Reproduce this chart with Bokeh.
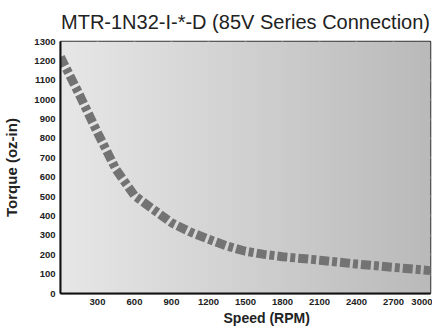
import numpy as np
from bokeh.plotting import figure
from bokeh.models import FixedTicker, Range1d, Title
from bokeh.embed import file_html
from bokeh.resources import INLINE

# ---- data ----
speed_rpm = [0, 150, 300, 450, 600, 750, 900, 1050, 1200, 1350, 1500, 1650, 1800, 2100, 2400, 2700, 3000]
torque_ozin = [1220, 1030, 830, 640, 505, 435, 365, 318, 280, 245, 218, 202, 190, 172, 152, 135, 118]
x_ticks = [300, 600, 900, 1200, 1500, 1800, 2100, 2400, 2700, 3000]
y_ticks = [0, 100, 200, 300, 400, 500, 600, 700, 800, 900, 1000, 1100, 1200, 1300]
title_text = "MTR-1N32-I-*-D (85V Series Connection)"
x_label = "Speed (RPM)"
y_label = "Torque (oz-in)"

FONT = "Liberation Sans"

p = figure(width=432, height=327, output_backend="svg", toolbar_location=None,
           x_range=Range1d(0, 3000), y_range=Range1d(0, 1300),
           min_border_left=51, min_border_right=2, min_border_top=0, min_border_bottom=34,
           background_fill_color="white", border_fill_color="white")
p.title = None

# gradient background (light left -> darker right)
n = 200
row = np.linspace(231, 186, n).astype(np.uint32)
img = np.empty((2, n), dtype=np.uint32)
view = img.view(dtype=np.uint8).reshape((2, n, 4))
for j in range(2):
    view[j, :, 0] = row
    view[j, :, 1] = row
    view[j, :, 2] = row
    view[j, :, 3] = 255
p.image_rgba(image=[img], x=0, y=0, dw=3000, dh=1300)

p.line(speed_rpm, torque_ozin, line_width=9, line_color="#737373",
       line_dash="10 3 5 3", line_cap="butt", line_join="round")

# title
p.add_layout(Title(text=title_text, align="center", text_font=FONT,
                   text_font_style="normal", text_font_size="20px", text_color="#222222",
                   standoff=17), "above")
# x axis title (sits a little right of centre in the reference)
p.add_layout(Title(text=x_label, align="left", offset=163, text_font=FONT,
                   text_font_style="bold", text_font_size="14px", text_color="#222222",
                   standoff=0), "below")

# axes
for ax in (p.xaxis[0], p.yaxis[0]):
    ax.axis_line_color = "#111111"
    ax.axis_line_width = 2
    ax.major_tick_line_color = None
    ax.minor_tick_line_color = None
    ax.major_tick_out = 0
    ax.major_tick_in = 0
    ax.major_label_text_font = FONT
    ax.major_label_text_font_style = "bold"
    ax.major_label_text_font_size = "9.5px"
    ax.major_label_text_color = "#222222"
    ax.major_label_standoff = 5

p.xaxis.ticker = FixedTicker(ticks=x_ticks)
p.yaxis.ticker = FixedTicker(ticks=y_ticks)
p.xaxis.axis_label_standoff = 0
p.yaxis.axis_label = y_label
p.yaxis.axis_label_text_font = FONT
p.yaxis.axis_label_text_font_style = "bold"
p.yaxis.axis_label_text_font_size = "15px"
p.yaxis.axis_label_text_color = "#222222"
p.yaxis.axis_label_standoff = 11

p.xgrid.ticker = FixedTicker(ticks=x_ticks)
p.ygrid.ticker = FixedTicker(ticks=y_ticks)
p.grid.grid_line_color = "white"
p.grid.grid_line_width = 2
p.grid.grid_line_alpha = 1.0

p.outline_line_color = "#333333"
p.outline_line_width = 1.5

open("out.html", "w").write(file_html(p, INLINE))
